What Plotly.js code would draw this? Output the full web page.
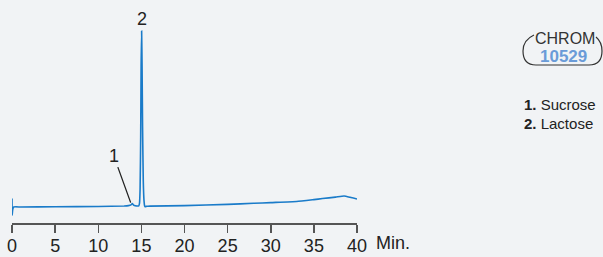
<!DOCTYPE html>
<html>
<head>
<meta charset="utf-8">
<script src="https://cdn.plot.ly/plotly-3.0.1.min.js"></script>
<style>
html,body{margin:0;padding:0;background:#f1f3f5;}
#chart{width:603px;height:257px;}
</style>
</head>
<body>
<div id="chart"></div>
<script>
// Retention time (min) and detector signal (relative units)
const timeMin = [0, 0.02, 0.08, 0.2, 1, 5, 10, 13, 13.5, 13.8, 13.95, 14.1, 14.3, 14.5, 14.7, 14.78, 14.85, 14.92, 14.97, 15.03, 15.08, 15.14, 15.22, 15.3, 15.38, 15.45, 15.55, 15.7, 16, 20, 25, 28, 30, 33, 35, 36, 37.5, 38.5, 39.2, 40];
const signal  = [4.9, -4.7, -1.5, 0, 0, 0.1, 0.3, 0.6, 0.8, 1.2, 1.9, 1.1, 0.7, 0.6, 0.7, 2, 10, 40, 80, 100, 80, 45, 15, 4, 0.6, 0.1, 0.35, 0.4, 0.5, 0.8, 1.5, 2.1, 2.5, 3.1, 4.2, 4.8, 5.6, 6.25, 5.5, 4.5];

const peakNumbers = ["1", "2"];
const peakNames = ["Sucrose", "Lactose"];
const peakTimes = [13.76, 15.03];
const peakLabelY = [2.5, 100];

const xTicks = [0, 5, 10, 15, 20, 25, 30, 35, 40];
const xUnit = "Min.";
const logoTop = "CHROM";
const logoNumber = "10529";

// plot geometry (pixels)
const W = 603, H = 257, mL = 12, mR = 246, mT = 10, mB = 34;
const pw = W - mL - mR, ph = H - mT - mB;
const px = X => (X - mL) / pw;
const py = Y => (H - mB - Y) / ph;

const font = "Liberation Sans, Arial, sans-serif";

const trace = {
  x: timeMin, y: signal, type: "scatter", mode: "lines",
  line: {color: "#1a7bc9", width: 1.6, shape: "spline", smoothing: 0.4},
  hoverinfo: "none"
};

const annotations = [
  {x: peakTimes[0], y: peakLabelY[0], xref: "x", yref: "y", text: peakNumbers[0],
   showarrow: true, arrowhead: 0, arrowwidth: 1.3, arrowcolor: "#222", ax: -17, ay: -47,
   font: {family: font, size: 18, color: "#222"}},
  {x: peakTimes[1], y: peakLabelY[1], xref: "x", yref: "y", text: peakNumbers[1],
   showarrow: false, yanchor: "bottom", yshift: 0,
   font: {family: font, size: 18, color: "#222"}},
  {x: px(374), y: py(243), xref: "paper", yref: "paper", text: xUnit, showarrow: false,
   xanchor: "left", yanchor: "middle", font: {family: font, size: 18, color: "#222"}},
  {x: px(565), y: py(38), xref: "paper", yref: "paper", text: logoTop, showarrow: false,
   xanchor: "center", yanchor: "middle", font: {family: font, size: 16, color: "#333"}},
  {x: px(563), y: py(56), xref: "paper", yref: "paper", text: "<b>" + logoNumber + "</b>", showarrow: false,
   xanchor: "center", yanchor: "middle", font: {family: font, size: 17, color: "#6a9bd8"}}
];
peakNames.forEach((n, i) => {
  annotations.push({x: px(522), y: py(104 + i * 20), xref: "paper", yref: "paper",
    text: "<b>" + peakNumbers[i] + ".</b> " + n, showarrow: false,
    xanchor: "left", yanchor: "middle", font: {family: font, size: 15, color: "#222"}});
});

function pathPx(cmds) {
  return cmds.map(c => c[0] + " " + c.slice(1).map((v, k) => (k % 2 === 0 ? px(v) : py(v))).join(",")).join(" ");
}
const logoLeft = pathPx([["M", 534, 35], ["Q", 523, 40, 523, 51], ["Q", 523, 65, 536, 65], ["L", 589, 65], ["Q", 602, 65, 602, 51], ["Q", 602, 42, 596, 37]]);

const layout = {
  width: W, height: H,
  margin: {l: mL, r: mR, t: mT, b: mB, pad: 0},
  paper_bgcolor: "#f1f3f5", plot_bgcolor: "#f1f3f5",
  showlegend: false,
  xaxis: {range: [0, 40], tickvals: xTicks, ticktext: xTicks.map(String),
    showline: true, linecolor: "#555", linewidth: 1.5, ticks: "outside", ticklen: 8,
    tickwidth: 1.5, tickcolor: "#555", showgrid: false, zeroline: false, ticklabelstandoff: -2,
    tickfont: {family: font, size: 18, color: "#222"}, fixedrange: true},
  yaxis: {range: [-9.1, 112], visible: false, fixedrange: true},
  annotations: annotations,
  shapes: [{type: "path", xref: "paper", yref: "paper", path: logoLeft,
    line: {color: "#333", width: 1.2}}]
};

Plotly.newPlot("chart", [trace], layout, {displayModeBar: false, staticPlot: true});
</script>
</body>
</html>
